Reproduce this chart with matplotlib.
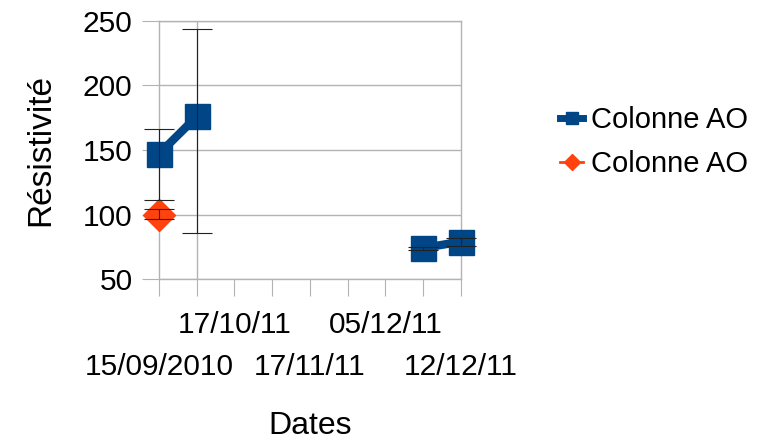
import matplotlib.pyplot as plt
from matplotlib.lines import Line2D
import numpy as np

# ------------------------------------------------------------
# DATA
# ------------------------------------------------------------

positions = [0, 1, 2, 3, 4, 5, 6, 7, 8]
tick_labels = ["15/09/2010", "", "17/10/11", "", "17/11/11", "", "05/12/11", "", "12/12/11"]

blue_values = [147, 176, np.nan, np.nan, np.nan, np.nan, np.nan, 74, 79]
blue_err_low = [36, 90, 0, 0, 0, 0, 0, 1.3, 3.7]
blue_err_high = [19, 68, 0, 0, 0, 0, 0, 0.8, 2.5]

red_positions = [0]
red_values = [100]
red_err_low = [3.5]
red_err_high = [4.3]

series_label = "Colonne AO"

BLUE = "#004586"
RED = "#ff420e"
GRID = "#b3b3b3"

# ------------------------------------------------------------
# PLOT
# ------------------------------------------------------------

plt.rcParams["font.family"] = ["Liberation Sans", "DejaVu Sans"]

fig = plt.figure(figsize=(7.67, 4.43), dpi=100)
ax = fig.add_axes([0.2073, 0.3702, 0.601 - 0.2073, 0.9526 - 0.3702])

ax.set_xlim(0, 8)
ax.set_ylim(50, 250)
ax.set_yticks([50, 100, 150, 200, 250])
ax.yaxis.grid(True, color=GRID, linewidth=1)
ax.axvline(1, color=GRID, linewidth=1, zorder=0)
ax.set_axisbelow(True)

for spine in ax.spines.values():
    spine.set_color(GRID)
    spine.set_linewidth(1)

ax.plot(
    positions,
    blue_values,
    color=BLUE,
    linewidth=6,
    marker="s",
    markersize=18,
    clip_on=False,
    zorder=3,
)

ax.plot(
    red_positions,
    red_values,
    color=RED,
    linestyle="none",
    marker="D",
    markersize=16,
    clip_on=False,
    zorder=3,
)


def draw_errors(x, y, low, high):
    container = ax.errorbar(
        x,
        y,
        yerr=[low, high],
        fmt="none",
        ecolor="#222222",
        elinewidth=0.8,
        capsize=11,
        capthick=0.8,
        zorder=4,
    )
    for artist in container.get_children():
        artist.set_clip_on(False)


draw_errors(positions, blue_values, blue_err_low, blue_err_high)
draw_errors(red_positions, red_values, red_err_low, red_err_high)

ax.set_xticks(positions)
ax.set_xticklabels(tick_labels)
ax.tick_params(axis="x", length=12, color=GRID, labelsize=21.5, pad=11)
ax.tick_params(axis="y", length=12, color=GRID, labelsize=21.5, pad=7)

for i, tick in enumerate(ax.xaxis.get_major_ticks()):
    if i % 4 == 0:
        tick.set_pad(41)

ax.set_ylabel("Résistivité", fontsize=24, labelpad=19)
ax.set_xlabel("Dates", fontsize=23, labelpad=22)

handles = [
    Line2D([], [], color=BLUE, linewidth=5, marker="s", markersize=9),
    Line2D([], [], color=RED, linewidth=2, marker="D", markersize=8),
]

fig.legend(
    handles,
    [series_label, series_label],
    loc="center left",
    bbox_to_anchor=(0.730, 0.679),
    frameon=False,
    fontsize=21,
    handlelength=0.8,
    handletextpad=0.25,
    labelspacing=0.55,
    borderpad=0,
    borderaxespad=0,
)

fig.savefig("out.png", dpi=100)
